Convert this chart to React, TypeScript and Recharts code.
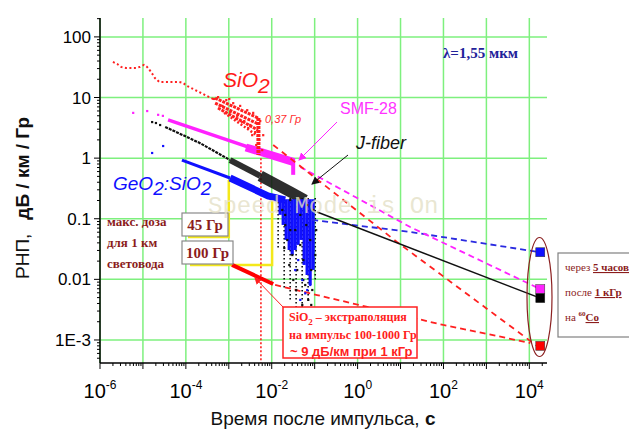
import React from 'react';
import { ComposedChart, Line, Scatter, XAxis, YAxis, CartesianGrid } from 'recharts';

const W = 629;
const H = 436;
const X_DOMAIN: [number, number] = [1e-6, 2.58e4];
const Y_DOMAIN: [number, number] = [4.17e-4, 205];

const xDecades = [1e-6, 1e-5, 1e-4, 1e-3, 1e-2, 1e-1, 1, 10, 100, 1000, 1e4];
const yDecades = [1e-3, 1e-2, 1e-1, 1, 10, 100];
const yMinorDecades = [1e-4, 1e-3, 1e-2, 1e-1, 1, 10, 100];
const minorMults = [2, 3, 4, 5, 6, 7, 8, 9];
const xLabelValues = [1e-6, 1e-4, 1e-2, 1, 100, 1e4];
const xLabelExps = ['-6', '-4', '-2', '0', '2', '4'];
const yLabelValues = [100, 10, 1, 0.1, 0.01, 0.001];
const yLabelTexts = ['100', '10', '1', '0.1', '0.01', '1E-3'];

// ---- SiO2 (red) ----
const redSparse = [[2e-6, 38.6], [2.5e-6, 35.8], [3.1e-6, 32], [4e-6, 30.8], [5.3e-6, 30.8], [6.9e-6, 30.8], [8.6e-6, 32], [1.06e-5, 34.5], [1.25e-5, 32], [1.55e-5, 26.4], [1.9e-5, 21], [2.4e-5, 18.1], [3.1e-5, 18.1], [4.1e-5, 18.1], [5.3e-5, 18.1], [6.9e-5, 18.1], [8.6e-5, 17.4], [1.07e-4, 15.5], [1.32e-4, 14.4], [1.64e-4, 13.3], [2e-4, 12.4], [2.5e-4, 11.5], [3.1e-4, 10.6], [3.9e-4, 9.8], [4.8e-4, 9.1]];
const redCloud1 = [[4.8e-4, 9.8], [4.8e-3, 4.6]];
const redCloud2 = [[4.8e-4, 8.1], [4.8e-3, 3.67]];
const redCloud3 = [[5.6e-4, 6.7], [4.8e-3, 2.9]];
const redCloud4 = [[7.8e-4, 5.6], [4.8e-3, 2.3]];
const redCloudDrop = [[4.9e-3, 4.6], [4.9e-3, 1.13]];
const redCloudDots = [[4.5e-4, 9.5], [5.6e-4, 10.2], [7.0e-4, 7.3], [8.7e-4, 9.1], [1.07e-3, 5.8], [1.26e-3, 8.1], [1.56e-3, 5.0], [1.83e-3, 7.3], [2.28e-3, 4.1], [2.67e-3, 6.2], [3.14e-3, 3.53], [3.68e-3, 5.6], [4.1e-3, 2.7], [4.57e-3, 4.6], [5.08e-3, 2.0], [5.97e-3, 1.36], [4.33e-3, 1.65], [2.82e-3, 3.15], [2.04e-3, 3.96], [1.48e-3, 4.4], [1.02e-3, 9.5], [5.37e-3, 4.1], [6.3e-3, 2.4], [3.49e-3, 2.4]];
const redVertical = [[5.6e-3, 1.0], [5.6e-3, 4.2e-4]];
const redDashUpper = [[0.0108, 1.65], [8.4, 0.041], [15000, 0.0008]];
const redExtrap = [[0.012, 0.0081], [0.114, 0.0055], [0.67, 0.0041], [9.8, 0.0026], [99, 0.00177], [847, 0.0013], [10500, 0.00089]];
const red100 = [[0.00119, 0.0173], [0.0108, 0.0084]];

// ---- SMF-28 (magenta) ----
const magentaDots = [[5.9e-6, 5.6], [1.25e-5, 6.0], [2.25e-5, 5.2], [2.9e-5, 5.0]];
const magentaBand = [[3.85e-5, 4.27], [1.07e-3, 1.92], [0.0316, 0.865]];
const magentaBandThick = [[2.5e-3, 1.5], [0.0316, 0.865]];
const magentaDrop = [[0.0316, 1.0], [0.0316, 0.53]];
const magentaDash = [[0.046, 0.716], [16.8, 0.073], [18000, 0.0069]];

// ---- J-fiber (black) ----
const blackDots = [[1.63e-5, 3.95], [2.0e-5, 3.81], [2.5e-5, 3.53]];
const blackBandThin = [[3.3e-5, 3.27], [2.1e-4, 1.78], [1.07e-3, 0.93]];
const blackBandMid = [[1.07e-3, 0.93], [5.4e-3, 0.51]];
const blackBandThick = [[5.4e-3, 0.51], [0.027, 0.277], [0.06, 0.204]];
const blackStreakX = [0.0141, 0.0195, 0.0269, 0.037, 0.0512, 0.0705, 0.103];
const blackStreakLow = [0.0305, 0.0067, 0.0046, 0.0031, 0.0021, 0.0046, 0.0098];
const blackCloud = [[0.0175, 0.14], [0.0205, 0.079], [0.0229, 0.0447], [0.0269, 0.204], [0.030, 0.0253], [0.0351, 0.0653], [0.039, 0.0143], [0.046, 0.116], [0.046, 0.037], [0.054, 0.0209], [0.060, 0.0081], [0.0634, 0.079], [0.0705, 0.0046], [0.0785, 0.0447], [0.0828, 0.0143], [0.0922, 0.14], [0.0922, 0.0021], [0.103, 0.0253], [0.037, 0.0067], [0.0255, 0.0173], [0.0512, 0.0038], [0.0745, 0.0026], [0.0195, 0.033], [0.108, 0.0653], [0.0412, 0.204], [0.0668, 0.169], [0.0875, 0.0067], [0.0316, 0.0098], [0.0205, 0.116], [0.0269, 0.0653], [0.054, 0.0098], [0.0828, 0.0038]];
const blackSolid = [[0.114, 0.129], [18000, 0.0049]];

// ---- GeO2:SiO2 (blue) ----
const blueDots = [[1.63e-5, 1.22], [2.94e-5, 1.59]];
const blueBandThin = [[8.1e-5, 0.93], [1.07e-3, 0.47]];
const blueBandThick = [[1.07e-3, 0.47], [8.2e-3, 0.238], [0.0205, 0.204]];
const blueStreakX = [0.0157, 0.0185, 0.0217, 0.0255, 0.030, 0.0351, 0.0412, 0.0484, 0.0569, 0.0668, 0.0785, 0.0922];
const blueStreakLow = [0.116, 0.079, 0.0447, 0.0305, 0.0253, 0.0305, 0.037, 0.0447, 0.0173, 0.0118, 0.0081, 0.0143];
const blueStreakTop = 0.21;
const blueLowDots = [[0.046, 0.0046], [0.060, 0.0059], [0.0785, 0.0081], [0.0668, 0.0067], [0.0512, 0.0098], [0.0351, 0.0143], [0.0412, 0.0209]];
const blueDash = [[0.0875, 0.0955], [16.8, 0.0605], [18000, 0.028]];

// ---- yellow dose markers ----
const yellowA = [[1.12e-4, 0.05], [1e-3, 0.05], [1e-3, 0.436]];
const yellowB = [[1.25e-4, 0.0173], [0.0102, 0.0173], [0.0102, 0.229]];

// ---- values after 5 h at 1 kGy (60Co) ----
const sqBlue = [[18000, 0.028]];
const sqMagenta = [[18000, 0.0069]];
const sqBlack = [[18000, 0.0049]];
const sqRed = [[18000, 0.0008]];

const SANS = "Arial, 'Liberation Sans', sans-serif";
const SERIF = "'Times New Roman', 'Liberation Serif', serif";
const MONO = "'Courier New', 'Liberation Mono', monospace";
const DARKRED = '#8b1c1c';
const RED = '#ff2020';
const MAG = '#ff22ff';
const BLUE = '#1010ff';
const BLK = '#111';

const pts = (a: number[][]) => a.map(([x, y]) => ({ x, y }));
const same = (a: number, b: number) => Math.abs(Math.log10(a) - Math.log10(b)) < 1e-6;

const xTicks = xDecades
  .flatMap((d) => [d, ...minorMults.map((m) => m * d)])
  .filter((v) => v <= X_DOMAIN[1]);
const yTicks = yMinorDecades
  .flatMap((d) => [d, ...minorMults.map((m) => m * d)])
  .filter((v) => v >= Y_DOMAIN[0] && v <= Y_DOMAIN[1]);

const BottomTick = (p: any) => {
  const v = p.payload.value;
  const major = xDecades.some((d) => same(d, v));
  const li = xLabelValues.findIndex((d) => same(d, v));
  return (
    <g>
      <line x1={p.x} x2={p.x} y1={p.y} y2={p.y + (major ? 6 : 3)} stroke="#000" strokeWidth={1} />
      {li >= 0 && (
        <text x={p.x} y={p.y + 35} textAnchor="middle" fontFamily={SANS} fontSize={20} fill="#000">
          10<tspan dy={-9} fontSize={12}>{xLabelExps[li]}</tspan>
        </text>
      )}
    </g>
  );
};
const TopTick = (p: any) => {
  const v = p.payload.value;
  const major = xDecades.some((d) => same(d, v));
  return <line x1={p.x} x2={p.x} y1={p.y} y2={p.y - (major ? 6 : 3)} stroke="#000" strokeWidth={1} />;
};
const LeftTick = (p: any) => {
  const v = p.payload.value;
  const major = yDecades.some((d) => same(d, v));
  const li = yLabelValues.findIndex((d) => same(d, v));
  return (
    <g>
      <line x1={p.x - (major ? 6 : 3)} x2={p.x} y1={p.y} y2={p.y} stroke="#000" strokeWidth={1} />
      {li >= 0 && (
        <text x={p.x - 9} y={p.y + 6} textAnchor="end" fontFamily={SANS} fontSize={17} fill="#000">
          {yLabelTexts[li]}
        </text>
      )}
    </g>
  );
};
const RightTick = (p: any) => {
  const v = p.payload.value;
  const major = yDecades.some((d) => same(d, v));
  return <line x1={p.x - (major ? 6 : 3)} x2={p.x} y1={p.y} y2={p.y} stroke="#000" strokeWidth={1} />;
};

const Dot2 = (p: any) => <rect x={p.cx - 1} y={p.cy - 1} width={2.2} height={2.2} fill={p.fill} />;
const Square = (p: any) => <rect x={p.cx - 4.5} y={p.cy - 4.5} width={9} height={9} fill={p.fill} stroke="#333" strokeWidth={0.5} />;

const mkLine = (key: string, data: number[][], stroke: string, width: number, dash?: string, opacity = 1) => (
  <Line
    key={key}
    xAxisId="b"
    yAxisId="l"
    data={pts(data)}
    dataKey="y"
    type="linear"
    stroke={stroke}
    strokeWidth={width}
    strokeDasharray={dash}
    strokeOpacity={opacity}
    dot={false}
    activeDot={false}
    isAnimationActive={false}
    legendType="none"
  />
);
const mkScatter = (key: string, data: number[][], fill: string, shape: any) => (
  <Scatter key={key} xAxisId="b" yAxisId="l" data={pts(data)} dataKey="y" fill={fill} shape={shape} isAnimationActive={false} legendType="none" />
);

export default function App() {
  return (
    <div style={{ position: 'absolute', left: 0, top: 0, width: W, height: H, background: '#fff' }}>
      <ComposedChart width={W} height={H} margin={{ top: 18, right: 82, bottom: 33, left: 40 }}>
        <CartesianGrid
          xAxisId="b"
          yAxisId="l"
          stroke="#7ef07e"
          strokeWidth={1.5}
          horizontalValues={yDecades}
          verticalValues={xDecades}
        />
        <XAxis xAxisId="b" dataKey="x" type="number" scale="log" domain={X_DOMAIN} allowDataOverflow ticks={xTicks} interval={0} tick={<BottomTick />} tickLine={false} tickSize={0} tickMargin={0} height={40} axisLine={{ stroke: '#000', strokeWidth: 1.5 }} orientation="bottom" />
        <XAxis xAxisId="t" dataKey="x" type="number" scale="log" domain={X_DOMAIN} allowDataOverflow ticks={xTicks} interval={0} tick={<TopTick />} tickLine={false} tickSize={0} tickMargin={0} height={0} axisLine={{ stroke: '#000', strokeWidth: 1.5 }} orientation="top" />
        <YAxis yAxisId="l" dataKey="y" type="number" scale="log" domain={Y_DOMAIN} allowDataOverflow ticks={yTicks} interval={0} tick={<LeftTick />} tickLine={false} tickSize={0} tickMargin={0} width={60} axisLine={{ stroke: '#000', strokeWidth: 1.5 }} orientation="left" />
        <YAxis yAxisId="r" dataKey="y" type="number" scale="log" domain={Y_DOMAIN} allowDataOverflow ticks={yTicks} interval={0} tick={<RightTick />} tickLine={false} tickSize={0} tickMargin={0} width={0} axisLine={{ stroke: '#000', strokeWidth: 1.5 }} orientation="right" />

        {mkLine('yA', yellowA, '#f4e81a', 2.5)}
        {mkLine('yB', yellowB, '#f4e81a', 2.5)}
        {mkLine('rv', redVertical, RED, 1.6, '2 2')}

        {mkLine('mb', magentaBand, MAG, 3.5)}
        {mkLine('mbt', magentaBandThick, MAG, 8)}
        {mkLine('md', magentaDrop, MAG, 4)}
        {mkScatter('mdots', magentaDots, MAG, Dot2)}

        {mkLine('bkt', blackBandThin, BLK, 2.2, '3 1')}
        {mkLine('bkm', blackBandMid, BLK, 6, undefined, 0.88)}
        {mkLine('bkk', blackBandThick, BLK, 11, undefined, 0.88)}
        {blackStreakX.map((x, i) => mkLine('bks' + i, [[x, 0.22], [x, blackStreakLow[i]]], BLK, 1.6, '1.5 2.5'))}
        {mkScatter('bkdots', blackDots, BLK, Dot2)}
        {mkScatter('bkcloud', blackCloud, BLK, Dot2)}

        {mkLine('blt', blueBandThin, BLUE, 3)}
        {mkLine('blk', blueBandThick, BLUE, 7)}
        {blueStreakX.map((x, i) => mkLine('bls' + i, [[x, blueStreakTop], [x, blueStreakLow[i]]], BLUE, 3.2))}
        {mkScatter('bldots', blueDots, BLUE, Dot2)}
        {mkScatter('bllow', blueLowDots, BLUE, Dot2)}

        {mkLine('rs', redSparse, RED, 2, '2 2.5')}
        {mkLine('rc1', redCloud1, RED, 3, '3 1')}
        {mkLine('rc2', redCloud2, RED, 3, '3 1')}
        {mkLine('rc3', redCloud3, RED, 3, '3 1')}
        {mkLine('rc4', redCloud4, RED, 2.5, '2 2')}
        {mkLine('rcd', redCloudDrop, RED, 4, '3 1')}
        {mkScatter('rcdots', redCloudDots, RED, Dot2)}

        {mkLine('bdash', blueDash, '#2a2ae0', 1.8, '6 4')}
        {mkLine('mdash', magentaDash, MAG, 1.8, '6 4')}
        {mkLine('rdu', redDashUpper, RED, 1.8, '6 5')}
        {mkLine('rex', redExtrap, RED, 1.8, '6 4')}
        {mkLine('bksolid', blackSolid, BLK, 1.5)}
        {mkLine('r100', red100, '#ff0000', 4)}

        {mkScatter('sqb', sqBlue, BLUE, Square)}
        {mkScatter('sqm', sqMagenta, MAG, Square)}
        {mkScatter('sqk', sqBlack, '#000', Square)}
        {mkScatter('sqr', sqRed, '#ff0000', Square)}
      </ComposedChart>

      <svg width={W} height={H} style={{ position: 'absolute', left: 0, top: 0, pointerEvents: 'none' }}>
        <defs>
          <marker id="arrM" markerWidth="8" markerHeight="8" refX="7" refY="4" orient="auto" markerUnits="userSpaceOnUse">
            <path d="M0,0 L8,4 L0,8 Z" fill={MAG} />
          </marker>
          <marker id="arrK" markerWidth="8" markerHeight="8" refX="7" refY="4" orient="auto" markerUnits="userSpaceOnUse">
            <path d="M0,0 L8,4 L0,8 Z" fill={BLK} />
          </marker>
          <marker id="arrR" markerWidth="7" markerHeight="7" refX="6" refY="3.5" orient="auto" markerUnits="userSpaceOnUse">
            <path d="M0,0 L7,3.5 L0,7 Z" fill={RED} />
          </marker>
        </defs>

        {/* series labels */}
        <text x={223} y={87} fill="#ff1a1a" fontFamily={SANS} fontStyle="italic" fontSize={21}>
          SiO<tspan dy={6}>2</tspan>
        </text>
        <text x={265} y={123} fill="#ff3030" fontFamily={SANS} fontStyle="italic" fontSize={11}>0,37 Гр</text>
        <text x={340} y={114} fill="#ff33ff" fontFamily={SANS} fontSize={16}>SMF-28</text>
        <text x={356} y={149} fill={BLK} fontFamily={SANS} fontStyle="italic" fontSize={18}>J-fiber</text>
        <text x={113} y={190} fill={BLUE} fontFamily={SANS} fontStyle="italic" fontSize={19}>
          GeO<tspan dy={5}>2</tspan><tspan dy={-5}>:SiO</tspan><tspan dy={5}>2</tspan>
        </text>
        <text x={443} y={58} fill="#22229a" fontFamily={SERIF} fontWeight="bold" fontSize={15}>λ=1,55 мкм</text>

        {/* pointers */}
        <line x1={337} y1={122} x2={299} y2={160} stroke={MAG} strokeWidth={1} markerEnd="url(#arrM)" />
        <line x1={348} y1={155} x2={312} y2={184} stroke={BLK} strokeWidth={1} markerEnd="url(#arrK)" />
        <line x1={284} y1={308} x2={255} y2={278} stroke={RED} strokeWidth={1} markerEnd="url(#arrR)" />

        {/* dose notes */}
        <g fontFamily={SERIF} fontWeight="bold" fontSize={13} fill={DARKRED}>
          <text x={107} y={226}>макс. доза</text>
          <text x={107} y={247}>для 1 км</text>
          <text x={107} y={268}>световода</text>
        </g>
        <rect x={182} y={213} width={46} height={23} fill="#fff" stroke="#8a8a8a" strokeWidth={1.2} />
        <text x={205} y={230} textAnchor="middle" fontFamily={SERIF} fontWeight="bold" fontSize={15} fill={DARKRED}>45 Гр</text>
        <rect x={182} y={241} width={51} height={23} fill="#fff" stroke="#8a8a8a" strokeWidth={1.2} />
        <text x={207.5} y={258} textAnchor="middle" fontFamily={SERIF} fontWeight="bold" fontSize={15} fill={DARKRED}>100 Гр</text>

        {/* SiO2 extrapolation box */}
        <rect x={283} y={307} width={134} height={51} fill="#fff" stroke={RED} strokeWidth={1.5} />
        <text x={289} y={321} fontFamily={SERIF} fontWeight="bold" fontSize={12} fill={RED}>
          SiO<tspan dy={4} fontSize={9}>2</tspan><tspan dy={-4}> – экстраполяция</tspan>
        </text>
        <text x={289} y={339} fontFamily={SERIF} fontWeight="bold" fontSize={12} fill={RED}>на импульс 100-1000 Гр</text>
        <text x={290} y={356} fontFamily={SANS} fontWeight="bold" fontSize={13} fill={RED}>~ 9 дБ/км при 1 кГр</text>

        {/* 60Co note */}
        <ellipse cx={539.5} cy={297} rx={12.5} ry={59.5} fill="none" stroke="#8b2020" strokeWidth={1.2} />
        <rect x={558} y={253} width={80} height={84} fill="#fff" stroke="#808080" strokeWidth={1.2} />
        <g fontFamily={SERIF} fontSize={11} fill={DARKRED}>
          <text x={565} y={271}>через <tspan textDecoration="underline" fontWeight="bold">5 часов</tspan></text>
          <text x={565} y={296}>после <tspan textDecoration="underline" fontWeight="bold">1 кГр</tspan></text>
          <text x={565} y={321}>на <tspan dy={-5} fontSize={7} fontWeight="bold">60</tspan><tspan dy={5} textDecoration="underline" fontWeight="bold">Co</tspan></text>
        </g>

        {/* axis titles */}
        <text transform="translate(29,198) rotate(-90)" textAnchor="middle" fontFamily={SANS} fontSize={19} fill={BLK}>
          РНП,<tspan dx={14} fontWeight="bold">дБ / км / Гр</tspan>
        </text>
        <text x={323} y={425} textAnchor="middle" fontFamily={SANS} fontSize={19} fill={BLK}>
          Время после импульса, <tspan fontWeight="bold">с</tspan>
        </text>

        {/* watermark */}
        <text x={208} y={213} fontFamily={MONO} fontSize={24} fill="#e4dfc6" fillOpacity={0.8}>Speed Mode is On</text>
      </svg>
    </div>
  );
}
